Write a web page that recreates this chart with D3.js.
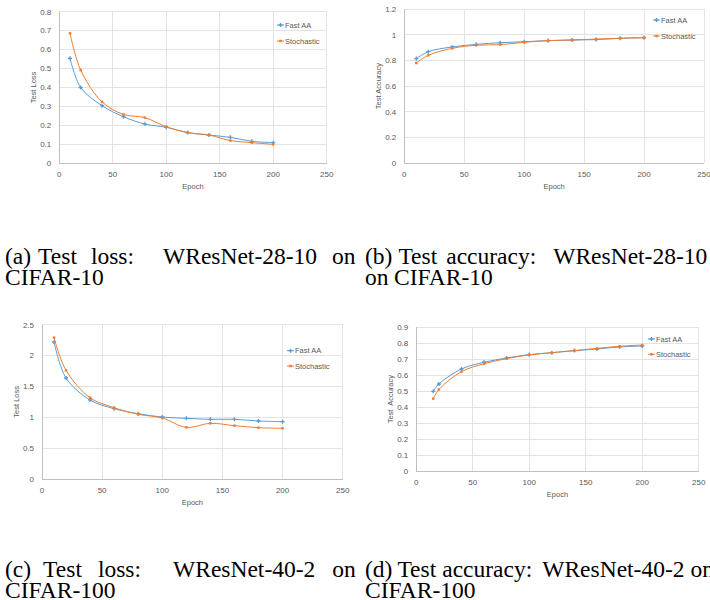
<!DOCTYPE html>
<html>
<head>
<meta charset="utf-8">
<script src="https://cdn.jsdelivr.net/npm/d3@7"></script>
<style>
  html, body { margin: 0; padding: 0; background: #fff; }
  svg { display: block; }
</style>
</head>
<body>
<svg id="fig" width="710" height="600"></svg>
<script>
// ---------------- data ----------------
const epochs = [10, 20, 40, 60, 80, 100, 120, 140, 160, 180, 200];
const epochsD = [15, 20, 40, 60, 80, 100, 120, 140, 160, 180, 200];

const lossA_fast  = [0.554, 0.400, 0.304, 0.246, 0.207, 0.190, 0.162, 0.149, 0.137, 0.116, 0.109];
const lossA_stoch = [0.686, 0.492, 0.324, 0.258, 0.241, 0.193, 0.162, 0.149, 0.120, 0.109, 0.100];

const accB_fast  = [0.814, 0.868, 0.905, 0.925, 0.938, 0.946, 0.954, 0.959, 0.962, 0.972, 0.977];
const accB_stoch = [0.780, 0.840, 0.894, 0.918, 0.923, 0.941, 0.954, 0.959, 0.966, 0.972, 0.977];

const lossC_fast  = [2.219, 1.636, 1.280, 1.139, 1.058, 1.004, 0.983, 0.967, 0.967, 0.940, 0.929];
const lossC_stoch = [2.290, 1.760, 1.317, 1.156, 1.048, 0.988, 0.837, 0.902, 0.864, 0.832, 0.821];

const accD_fast  = [0.499, 0.545, 0.639, 0.681, 0.708, 0.729, 0.741, 0.754, 0.764, 0.777, 0.783];
const accD_stoch = [0.453, 0.510, 0.622, 0.672, 0.704, 0.727, 0.741, 0.754, 0.768, 0.781, 0.789];

const xTicks = [0, 50, 100, 150, 200, 250];
const yTicksA = [0, 0.1, 0.2, 0.3, 0.4, 0.5, 0.6, 0.7, 0.8];
const yTicksB = [0, 0.2, 0.4, 0.6, 0.8, 1, 1.2];
const yTicksC = [0, 0.5, 1, 1.5, 2, 2.5];
const yTicksD = [0, 0.1, 0.2, 0.3, 0.4, 0.5, 0.6, 0.7, 0.8, 0.9];

const seriesNames = ["Fast AA", "Stochastic"];
const seriesColors = ["#5b9bd5", "#ed7d31"];

const captionA = ["(a) Test loss: WResNet-28-10 on", "CIFAR-10"];
const captionB = ["(b) Test accuracy: WResNet-28-10 on", "on CIFAR-10"];
const captionC = ["(c) Test loss: WResNet-40-2 on", "CIFAR-100"];
const captionD = ["(d) Test accuracy: WResNet-40-2 on", "CIFAR-100"];

// ---------------- layout ----------------
const charts = [
  { left: 59.3, right: 326.7, top: 11.7, bottom: 163.3, ymax: 0.8, yTicks: yTicksA,
    x: epochs, s: [lossA_fast, lossA_stoch], ytitle: "Test Loss", legX: 285, legY: [25, 41] },
  { left: 404.3, right: 704, top: 9, bottom: 163.3, ymax: 1.2, yTicks: yTicksB,
    x: epochs, s: [accB_fast, accB_stoch], ytitle: "Test Accuracy", legX: 661, legY: [20, 36] },
  { left: 42, right: 342.7, top: 324.7, bottom: 479, ymax: 2.5, yTicks: yTicksC,
    x: epochs, s: [lossC_fast, lossC_stoch], ytitle: "Test Loss", legX: 295, legY: [350.7, 366] },
  { left: 416.3, right: 698.7, top: 327.3, bottom: 471, ymax: 0.9, yTicks: yTicksD,
    x: epochsD, s: [accD_fast, accD_stoch], ytitle: "Test  Accuracy", legX: 656, legY: [339, 354.3] }
];

const svg = d3.select("#fig");
const sansFont = "'Liberation Sans', Arial, sans-serif";
const serifFont = "'Liberation Serif', 'Times New Roman', serif";

const fmt = v => (Math.round(v * 10) / 10).toString();

charts.forEach(c => {
  const g = svg.append("g");
  const x = d3.scaleLinear().domain([0, 250]).range([c.left, c.right]);
  const y = d3.scaleLinear().domain([0, c.ymax]).range([c.bottom, c.top]);

  // gridlines
  g.append("g").selectAll("line").data(c.yTicks.filter(t => t > 0)).join("line")
    .attr("x1", c.left).attr("x2", c.right)
    .attr("y1", d => y(d)).attr("y2", d => y(d))
    .attr("stroke", "#e3e3e3").attr("stroke-width", 1).attr("shape-rendering", "crispEdges");
  g.append("g").selectAll("line").data(xTicks.filter(t => t > 0)).join("line")
    .attr("x1", d => x(d)).attr("x2", d => x(d))
    .attr("y1", c.top).attr("y2", c.bottom)
    .attr("stroke", "#e3e3e3").attr("stroke-width", 1).attr("shape-rendering", "crispEdges");

  // axes lines
  g.append("line").attr("x1", c.left).attr("x2", c.right).attr("y1", c.bottom).attr("y2", c.bottom)
    .attr("stroke", "#bfbfbf").attr("shape-rendering", "crispEdges");
  g.append("line").attr("x1", c.left).attr("x2", c.left).attr("y1", c.top).attr("y2", c.bottom)
    .attr("stroke", "#bfbfbf").attr("shape-rendering", "crispEdges");

  // tick labels
  g.append("g").selectAll("text").data(c.yTicks).join("text")
    .attr("x", c.left - 8).attr("y", d => y(d)).attr("dy", "0.35em")
    .attr("text-anchor", "end").attr("font-family", sansFont).attr("font-size", 8)
    .attr("fill", "#595959").text(fmt);
  g.append("g").selectAll("text").data(xTicks).join("text")
    .attr("x", d => x(d)).attr("y", c.bottom + 14)
    .attr("text-anchor", "middle").attr("font-family", sansFont).attr("font-size", 8)
    .attr("fill", "#595959").text(d => d);

  // axis titles
  g.append("text").attr("x", (c.left + c.right) / 2).attr("y", c.bottom + 25.5)
    .attr("text-anchor", "middle").attr("font-family", sansFont).attr("font-size", 7.5)
    .attr("fill", "#595959").text("Epoch");
  g.append("text")
    .attr("transform", `translate(${c.left - 23},${(c.top + c.bottom) / 2}) rotate(-90)`)
    .attr("text-anchor", "middle").attr("font-family", sansFont).attr("font-size", 7.5)
    .attr("fill", "#595959").style("white-space", "pre").text(c.ytitle);

  // series
  const line = d3.line().x(d => x(d[0])).y(d => y(d[1])).curve(d3.curveCatmullRom.alpha(0.5));
  c.s.forEach((vals, i) => {
    const pts = c.x.map((e, k) => [e, vals[k]]);
    g.append("path").datum(pts).attr("d", line).attr("fill", "none")
      .attr("stroke", seriesColors[i]).attr("stroke-width", 1);
    const sym = d3.symbol().type(i === 0 ? d3.symbolCross : d3.symbolSquare).size(i === 0 ? 9 : 6);
    g.append("g").selectAll("path").data(pts).join("path")
      .attr("transform", d => `translate(${x(d[0])},${y(d[1])})`)
      .attr("d", sym).attr("fill", seriesColors[i]);
  });

  // legend
  seriesNames.forEach((name, i) => {
    const ly = c.legY[i];
    g.append("line").attr("x1", c.legX - 8).attr("x2", c.legX - 1).attr("y1", ly).attr("y2", ly)
      .attr("stroke", seriesColors[i]).attr("stroke-width", 1);
    const sym = d3.symbol().type(i === 0 ? d3.symbolCross : d3.symbolSquare).size(i === 0 ? 9 : 6);
    g.append("path").attr("transform", `translate(${c.legX - 4.5},${ly})`).attr("d", sym)
      .attr("fill", seriesColors[i]);
    g.append("text").attr("x", c.legX).attr("y", ly).attr("dy", "0.35em")
      .attr("font-family", sansFont).attr("font-size", 7.5).attr("fill", "#595959").text(name);
  });
});

// ---------------- captions ----------------
const CAP_SIZE = 23.5;
function captionLine(text, x, y, gaps) {
  const words = text.split(" ");
  let cx = x;
  words.forEach((w, k) => {
    const t = svg.append("text")
      .attr("x", cx).attr("y", y)
      .attr("font-family", serifFont).attr("font-size", CAP_SIZE).attr("fill", "#000")
      .text(w);
    const wd = t.node().getComputedTextLength();
    cx += wd + (gaps ? gaps[k] || 0 : 5.5);
  });
}
captionLine(captionA[0], 5, 264, [7, 14, 29, 15]);
captionLine(captionA[1], 5, 285, null);
captionLine(captionB[0], 365, 264, [6, 9, 17, 10]);
captionLine(captionB[1], 365, 285, null);
captionLine(captionC[0], 5, 577, [12, 16, 32, 17]);
captionLine(captionC[1], 5, 597.5, null);
captionLine(captionD[0], 365, 577, [5, 6, 10, 6]);
captionLine(captionD[1], 365, 597.5, null);
</script>
</body>
</html>
